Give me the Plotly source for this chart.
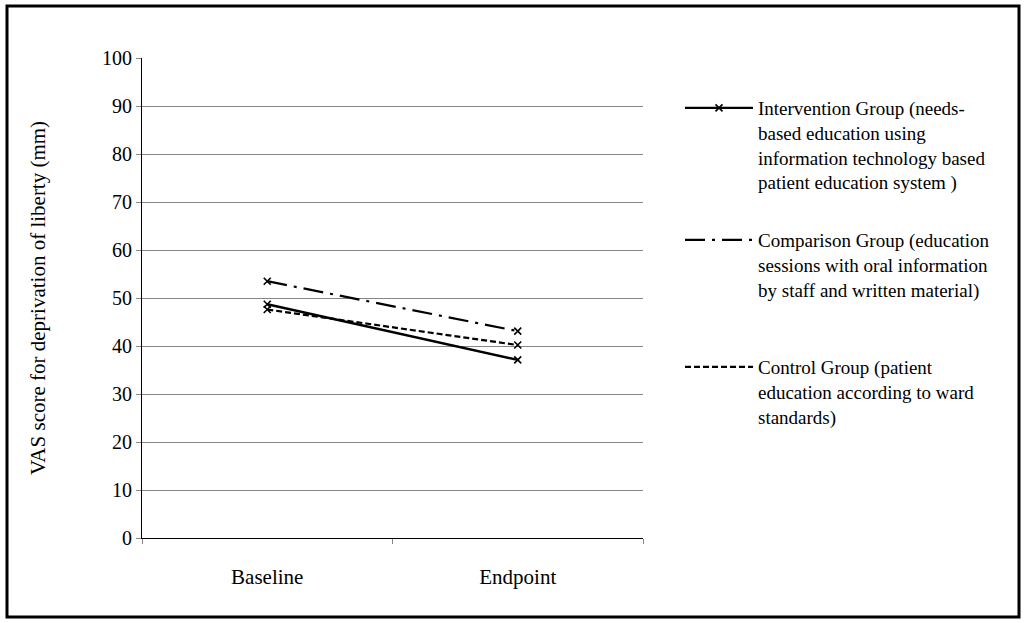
import plotly.graph_objects as go

categories = ["Baseline", "Endpoint"]
intervention = [48.7, 37.1]
comparison = [53.5, 43.1]
control = [47.6, 40.2]

names = [
    "Intervention Group (needs-<br>based education using<br>information technology based<br>patient education system )",
    "Comparison Group (education<br>sessions with oral information<br>by staff and written material)",
    "Control Group (patient<br>education according to ward<br>standards)",
]

FONT = "Liberation Serif"
L, R, T, B = 142, 643, 58, 538
W, H = 1024, 623

def px_x(p):
    return (p - L) / (R - L)

def px_y(p):
    return (B - p) / (B - T)

mk = dict(symbol="x-thin", size=7, line=dict(color="black", width=1.6), color="black")

fig = go.Figure()

fig.add_trace(go.Scatter(
    x=categories, y=intervention, mode="lines+markers", name=names[0],
    line=dict(color="black", width=2.4), marker=mk, legend="legend",
))
fig.add_trace(go.Scatter(
    x=categories, y=comparison, mode="lines", name=names[1],
    line=dict(color="black", width=2.2, dash="20px,7px,3px,7px"),
    legend="legend2",
))
fig.add_trace(go.Scatter(
    x=categories, y=comparison, mode="markers", showlegend=False, marker=mk,
))
fig.add_trace(go.Scatter(
    x=categories, y=control, mode="lines", name=names[2],
    line=dict(color="black", width=2.2, dash="6px,3px"),
    legend="legend3",
))
fig.add_trace(go.Scatter(
    x=categories, y=control, mode="markers", showlegend=False, marker=mk,
))

leg_common = dict(
    x=px_x(680), xanchor="left", yanchor="top", itemwidth=68,
    font=dict(family=FONT, size=19, color="black"),
    bgcolor="rgba(0,0,0,0)", borderwidth=0, valign="top",
)

fig.update_layout(
    width=W, height=H,
    margin=dict(l=L, r=W - R, t=T, b=H - B),
    paper_bgcolor="white", plot_bgcolor="white",
    font=dict(family=FONT, size=20, color="black"),
    legend=dict(y=px_y(108 - 19), **leg_common),
    legend2=dict(y=px_y(240 - 19), **leg_common),
    legend3=dict(y=px_y(367 - 19), **leg_common),
    xaxis=dict(
        type="category", range=[-0.5, 1.5],
        showline=True, linecolor="black", linewidth=1,
        ticks="outside", ticklen=5, tickcolor="#868686", tickson="boundaries",
        showgrid=False, zeroline=False,
        tickfont=dict(family=FONT, size=21, color="black"),
        ticklabelstandoff=20,
    ),
    yaxis=dict(
        range=[0, 100], dtick=10, tick0=0,
        showline=True, linecolor="black", linewidth=1,
        showgrid=True, gridcolor="#868686", gridwidth=1,
        ticks="outside", ticklen=5, tickcolor="#868686",
        zeroline=False,
        tickfont=dict(family=FONT, size=20, color="black"),
        title=dict(text="VAS score for deprivation of liberty (mm)",
                   font=dict(family=FONT, size=21, color="black"), standoff=50),
    ),
    shapes=[dict(
        type="rect", xref="paper", yref="paper",
        x0=px_x(7), x1=px_x(1019), y0=px_y(617), y1=px_y(6),
        line=dict(color="black", width=3), fillcolor="rgba(0,0,0,0)",
    )],
)

fig.write_html("out.html", config={"displayModeBar": False},
               post_script="document.body.style.margin='0';")
